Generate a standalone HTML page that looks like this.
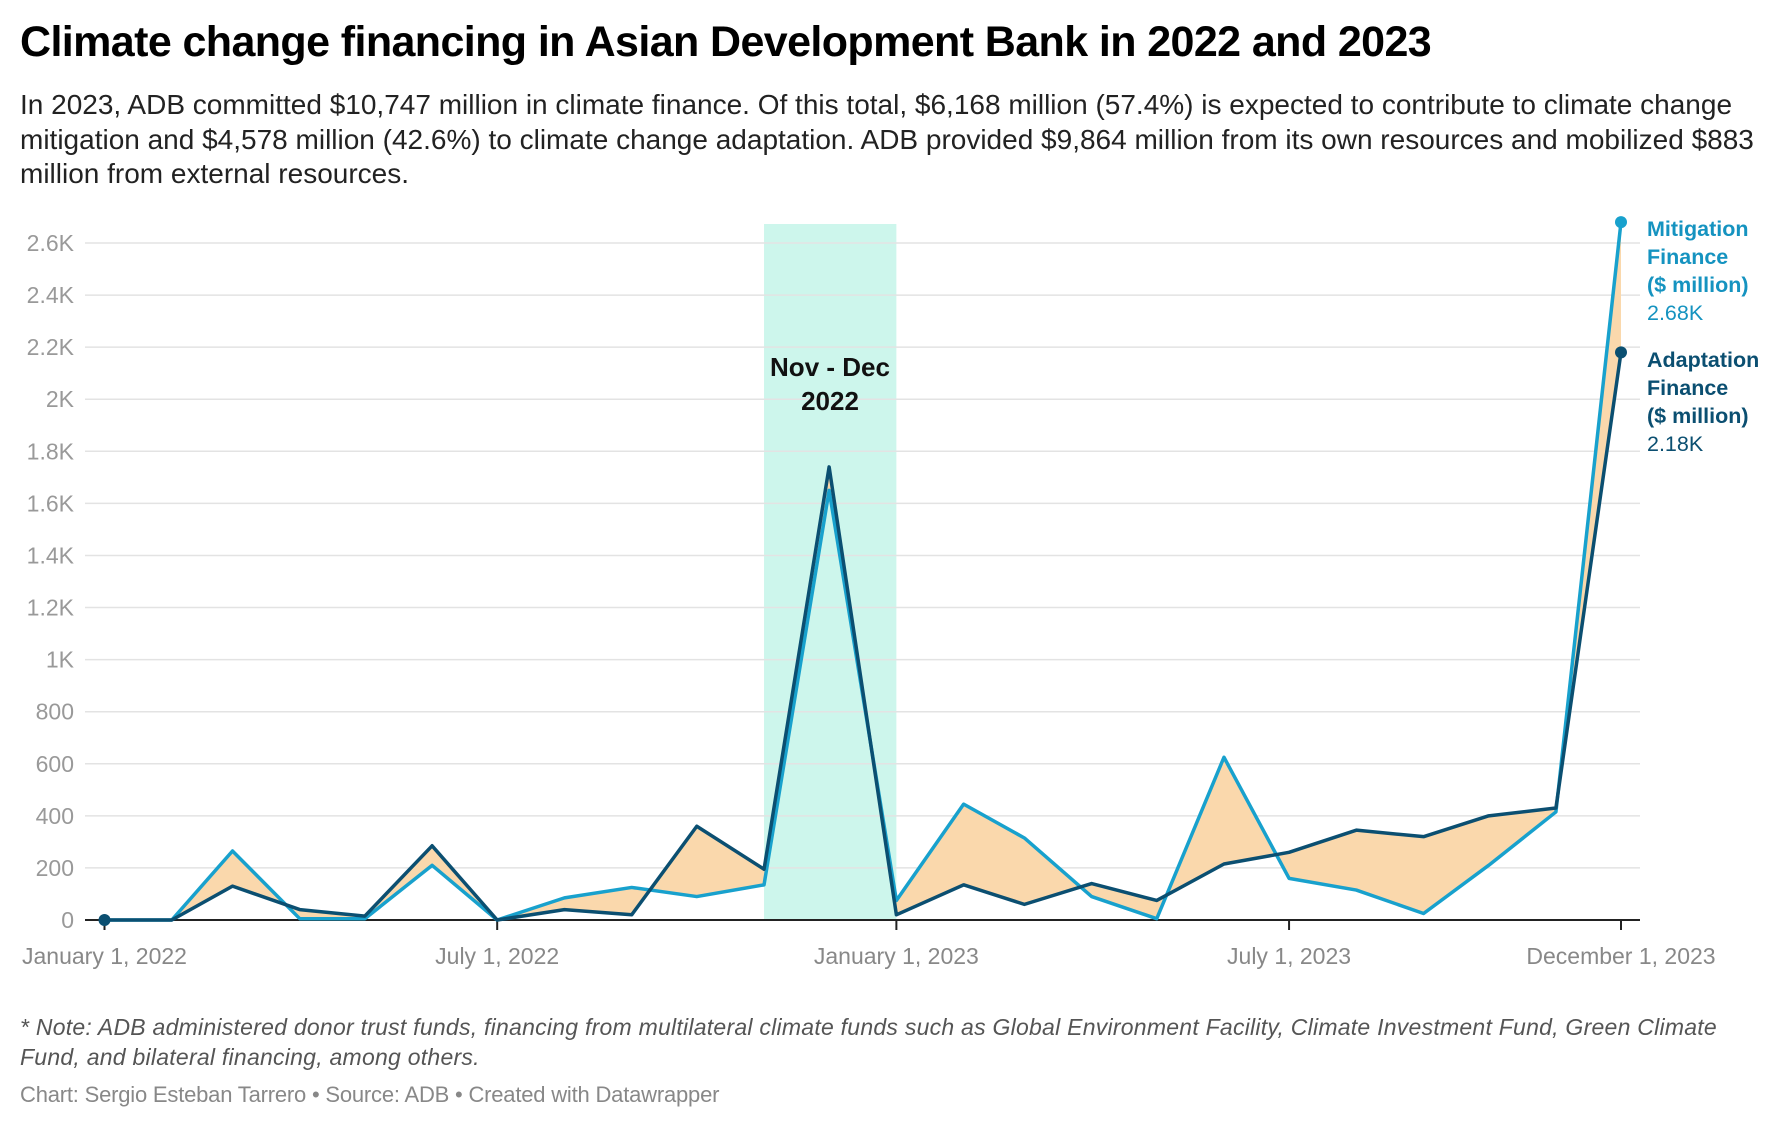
<!DOCTYPE html>
<html><head><meta charset="utf-8">
<style>
body{margin:0;background:#fff;width:1790px;height:1124px;overflow:hidden;font-family:"Liberation Sans",sans-serif;}
#title{position:absolute;left:20px;top:18px;font-size:43px;font-weight:bold;color:#000;letter-spacing:-0.6px;white-space:nowrap;}
#sub{position:absolute;left:20px;top:88px;width:1770px;font-size:28px;line-height:34.5px;color:#222;letter-spacing:0px;white-space:nowrap;}
#note{position:absolute;left:20px;top:1012px;font-size:23px;line-height:30px;font-style:italic;color:#555;width:1770px;letter-spacing:0.25px;white-space:nowrap;}
#foot{position:absolute;left:20px;top:1082px;font-size:22px;color:#888;letter-spacing:-0.2px;}
svg{position:absolute;left:0;top:0;}
</style></head><body>
<div id="title">Climate change financing in Asian Development Bank in 2022 and 2023</div>
<div id="sub">In 2023, ADB committed $10,747 million in climate finance. Of this total, $6,168 million (57.4%) is expected to contribute to climate change<br>mitigation and $4,578 million (42.6%) to climate change adaptation. ADB provided $9,864 million from its own resources and mobilized $883<br>million from external resources.</div>
<svg id="chart" width="1790" height="1124"></svg>
<div id="note">* Note: ADB administered donor trust funds, financing from multilateral climate funds such as Global Environment Facility, Climate Investment Fund, Green Climate<br>Fund, and bilateral financing, among others.</div>
<div id="foot">Chart: Sergio Esteban Tarrero • Source: ADB • Created with Datawrapper</div>
<script>
const months = ["2022-01","2022-02","2022-03","2022-04","2022-05","2022-06","2022-07","2022-08","2022-09","2022-10","2022-11","2022-12","2023-01","2023-02","2023-03","2023-04","2023-05","2023-06","2023-07","2023-08","2023-09","2023-10","2023-11","2023-12"];
const mitigation = [0,0,265,5,5,210,0,85,125,90,135,1650,75,445,315,90,5,625,160,115,25,210,415,2680];
const adaptation = [0,0,130,40,15,285,0,40,20,360,195,1740,20,135,60,140,75,215,260,345,320,400,430,2180];
const yTicks = [0,200,400,600,800,1000,1200,1400,1600,1800,2000,2200,2400,2600];
const yTickLabels = ["0","200","400","600","800","1K","1.2K","1.4K","1.6K","1.8K","2K","2.2K","2.4K","2.6K"];
const xTicks = ["2022-01","2022-07","2023-01","2023-07","2023-12"];
const xTickLabels = ["January 1, 2022","July 1, 2022","January 1, 2023","July 1, 2023","December 1, 2023"];
const highlight = ["2022-11","2023-01"];

const NS="http://www.w3.org/2000/svg";
const svg=document.getElementById('chart');
const t0=Date.UTC(2022,0,1), t1=Date.UTC(2023,11,1);
function x(m){const [y,mo]=m.split('-').map(Number);const t=Date.UTC(y,mo-1,1);return 104.5+(t-t0)/(t1-t0)*(1621-104.5);}
function y(v){return 920-v*(920-243)/2600;}
function mk(tag,attrs,parent){const e=document.createElementNS(NS,tag);for(const k in attrs)e.setAttribute(k,attrs[k]);(parent||svg).appendChild(e);return e;}

const band=mk('rect',{x:x(highlight[0]),y:224,width:x(highlight[1])-x(highlight[0]),height:920-224,fill:'#cdf6ec'});



yTicks.forEach((v,i)=>{
  if(v>0){const g=mk('line',{x1:85,x2:1640,y1:y(v),y2:y(v),stroke:'#e3e3e3','stroke-width':1.5});
  
  }
  const tx=mk('text',{x:74,y:y(v)+8,'text-anchor':'end','font-size':23,fill:'#999','font-family':'Liberation Sans, sans-serif'});
  tx.textContent=yTickLabels[i];
  
  
});

const hl1=mk('text',{x:830,y:376,'text-anchor':'middle','font-size':26,'font-weight':'bold',fill:'#111','font-family':'Liberation Sans, sans-serif'});
hl1.textContent='Nov - Dec';


const hl2=mk('text',{x:830,y:410,'text-anchor':'middle','font-size':26,'font-weight':'bold',fill:'#111','font-family':'Liberation Sans, sans-serif'});
hl2.textContent='2022';



let d='M'+months.map((m,i)=>x(m)+','+y(mitigation[i])).join('L');
d+='L'+months.slice().reverse().map((m,j)=>{const i=months.length-1-j;return x(m)+','+y(adaptation[i]);}).join('L')+'Z';
const area=mk('path',{d:d,fill:'#fad8ac'});



const ax=mk('line',{x1:85,x2:1640,y1:920,y2:920,stroke:'#222','stroke-width':2});


xTicks.forEach((m,i)=>{
  const tk=mk('line',{x1:x(m),x2:x(m),y1:920,y2:930,stroke:'#222','stroke-width':2});
  
  
  const tx=mk('text',{x:x(m),y:964,'text-anchor':'middle','font-size':23,fill:'#888','font-family':'Liberation Sans, sans-serif'});
  tx.textContent=xTickLabels[i];
  
  
});

const lm=mk('polyline',{points:months.map((m,i)=>x(m)+','+y(mitigation[i])).join(' '),fill:'none',stroke:'#18a1cd','stroke-width':3.5,'stroke-linejoin':'round'});


const la=mk('polyline',{points:months.map((m,i)=>x(m)+','+y(adaptation[i])).join(' '),fill:'none',stroke:'#0b4f71','stroke-width':3.5,'stroke-linejoin':'round'});



const n=months.length-1;
const d1=mk('circle',{cx:x(months[0]),cy:y(adaptation[0]),r:6,fill:'#0b4f71'});


const d2=mk('circle',{cx:x(months[n]),cy:y(mitigation[n]),r:6,fill:'#18a1cd'});


const d3=mk('circle',{cx:x(months[n]),cy:y(adaptation[n]),r:6,fill:'#0b4f71'});



function fmt(v){return (v/1000).toFixed(2)+'K';}
function label(lines,val,top,color,name){
  lines.forEach((s,i)=>{
    const t=mk('text',{x:1647,y:top+i*28,'font-size':21.5,'font-weight':'bold',fill:color,'font-family':'Liberation Sans, sans-serif'});
    t.textContent=s;
    
    
  });
  const v=mk('text',{x:1647,y:top+3*28,'font-size':21.5,fill:color,'font-family':'Liberation Sans, sans-serif'});
  v.textContent=fmt(val);
  
  
}
label(['Mitigation','Finance','($ million)'],mitigation[n],236,'#1593c0','mitigation');
label(['Adaptation','Finance','($ million)'],adaptation[n],367,'#0b4f71','adaptation');
</script>
</body></html>
